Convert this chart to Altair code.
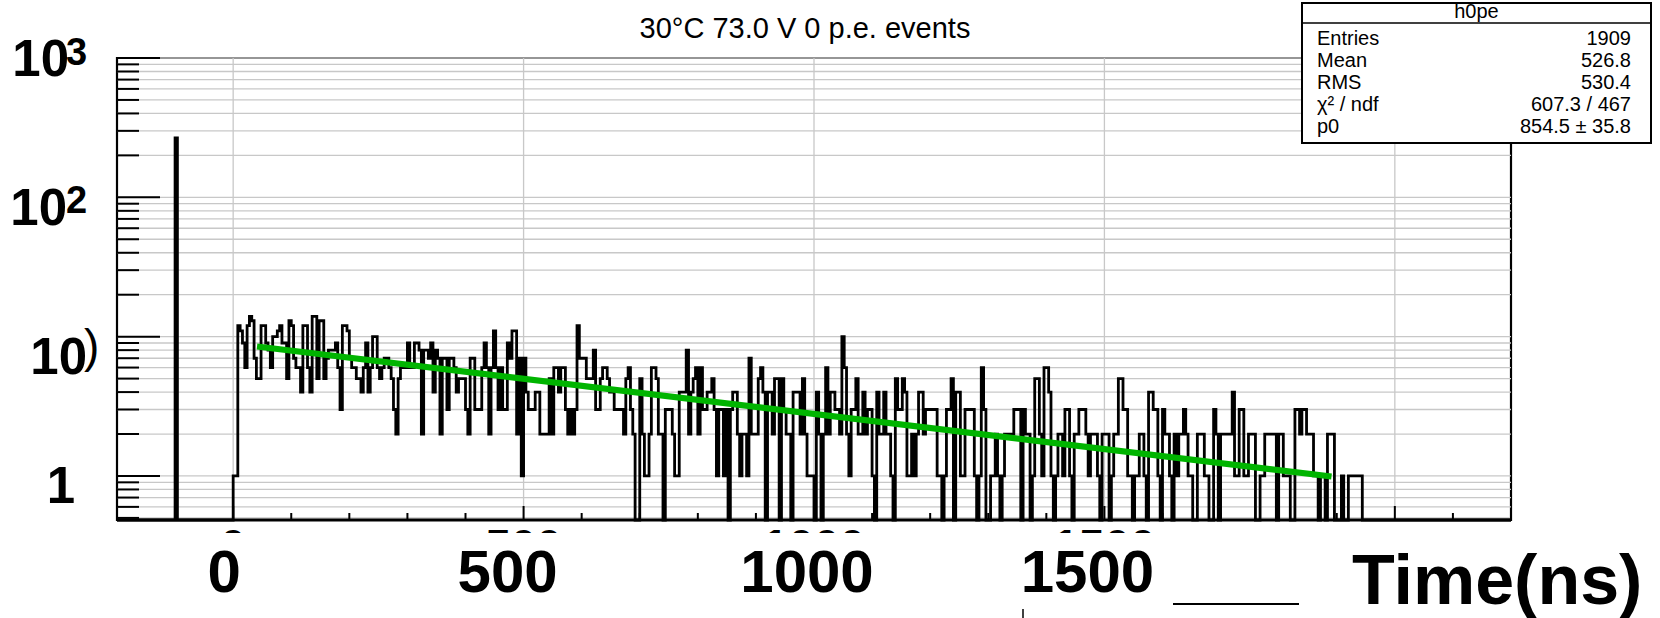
import altair as alt
import pandas as pd

# ---------------------------------------------------------------------------
# Histogram h0pe: arrival time of 0 p.e. events, 4 ns bins from -200 to 2200 ns
# ---------------------------------------------------------------------------
BIN_WIDTH = 4
X_RANGE = [-200, 2200]
Y_RANGE = [0.483, 1000]

PLOT_W, PLOT_H = 1394, 462
LEFT, TOP = 117, 58
FONT = "Liberation Sans"

pedestal_time = [-100]
pedestal_count = [267]

# bin contents starting at t = 0 ns
counts_000_312 = [1, 1, 12, 11, 9, 6, 12, 14, 13, 7, 5, 5, 12, 12, 9, 8, 6, 10, 10, 11,
                  12, 9, 9, 5, 13, 12, 7, 6, 6, 4, 12, 12, 6, 4, 14, 14, 5, 13, 13, 5,
                  7, 8, 8, 8, 9, 6, 3, 12, 12, 11, 7, 6, 6, 5, 5, 4, 6, 9, 4, 6,
                  10, 10, 6, 5, 6, 7, 7, 6, 5, 3, 2, 5, 6, 6, 6, 9, 6, 6]
counts_312_632 = [9, 9, 8, 2, 8, 8, 7, 9, 4, 8, 7, 2, 7, 7, 3, 7, 7, 6, 4, 5,
                  5, 5, 3, 2, 7, 7, 3, 3, 3, 6, 9, 6, 2, 6, 11, 6, 3, 6, 3, 3,
                  9, 7, 11, 11, 2, 7, 1, 7, 4, 3, 3, 3, 4, 4, 2, 2, 2, 2, 5, 2,
                  6, 6, 4, 6, 6, 3, 2, 3, 2, 3, 12, 7, 7, 7, 5, 5, 5, 8, 3, 3]
counts_632_952 = [5, 6, 6, 5, 4, 4, 3, 3, 3, 3, 2, 5, 6, 3, 2, 0, 0, 5, 2, 1,
                  1, 2, 6, 6, 5, 2, 2, 0, 3, 3, 3, 2, 1, 1, 4, 4, 4, 8, 2, 4,
                  5, 6, 2, 6, 3, 3, 4, 4, 5, 3, 1, 3, 3, 1, 3, 0, 3, 4, 4, 2,
                  1, 2, 2, 1, 7, 2, 2, 2, 5, 6, 4, 0, 4, 4, 2, 5, 5, 0, 5, 3]
counts_952_1268 = [2, 2, 0, 4, 4, 4, 2, 5, 2, 1, 1, 1, 0, 4, 2, 0, 2, 6, 2, 4,
                   4, 3, 3, 2, 10, 6, 2, 1, 3, 3, 5, 2, 2, 4, 2, 3, 3, 1, 0, 4,
                   2, 2, 4, 2, 2, 1, 0, 5, 3, 3, 5, 4, 1, 1, 2, 1, 2, 4, 4, 2,
                   3, 3, 3, 3, 3, 1, 1, 0, 1, 3, 3, 5, 0, 4, 4, 1, 1, 3, 3]
counts_1268_1588 = [3, 3, 1, 0, 1, 6, 3, 0, 0, 1, 1, 2, 1, 0, 1, 2, 2, 2, 2, 3,
                    3, 3, 0, 3, 2, 2, 0, 1, 5, 5, 2, 1, 6, 6, 4, 1, 0, 1, 2, 2,
                    1, 3, 3, 1, 0, 2, 2, 3, 3, 3, 2, 1, 2, 2, 2, 1, 0, 2, 2, 2,
                    0, 1, 2, 2, 5, 5, 3, 3, 1, 1, 0, 1, 1, 2, 2, 1, 0, 4, 4, 3]
counts_1588_1944 = [3, 1, 0, 3, 2, 2, 1, 0, 2, 1, 2, 2, 3, 2, 1, 1, 0, 0, 2, 2,
                    2, 1, 1, 0, 0, 3, 2, 0, 2, 2, 2, 2, 2, 4, 1, 1, 3, 3, 1, 1,
                    2, 2, 2, 0, 0, 1, 1, 2, 2, 2, 2, 2, 0, 2, 2, 1, 1, 1, 0, 0,
                    3, 3, 2, 3, 3, 2, 2, 2, 1, 1, 0, 1, 1, 0, 2, 2, 2, 0, 0, 0,
                    1, 0, 0, 1, 1, 1, 1, 1, 1]
signal_counts = (counts_000_312 + counts_312_632 + counts_632_952 +
                 counts_952_1268 + counts_1268_1588 + counts_1588_1944)

# exponential fit, drawn between its end points (straight on a log axis)
fit_time = [41, 1891]
fit_value = [8.5, 0.99]

title_text = "30°C 73.0 V 0 p.e. events"
stats_header = "h0pe"
stat_names = ["Entries", "Mean", "RMS", "χ² / ndf", "p0"]
stat_values = ["1909", "526.8", "530.4", "607.3 / 467", "854.5 ± 35.8"]
x_label_values = [0, 500, 1000, 1500]
y_decades = [1000, 100, 10, 1]
y_label_base = ["10", "10", "10", "1"]
y_label_exp = ["3", "2", "", ""]
x_title = "Time(ns)"

# ---------------------------------------------------------------------------
n_bins = (X_RANGE[1] - X_RANGE[0]) // BIN_WIDTH
counts = [0] * n_bins
for t, c in zip(pedestal_time, pedestal_count):
    counts[(t - X_RANGE[0]) // BIN_WIDTH] = c
first = (0 - X_RANGE[0]) // BIN_WIDTH
for i, c in enumerate(signal_counts):
    counts[first + i] = c
edges = [X_RANGE[0] + i * BIN_WIDTH for i in range(n_bins + 1)]
floor = Y_RANGE[0]
hist = pd.DataFrame({
    "t": edges,
    "n": [max(c, floor) for c in counts] + [max(counts[-1], floor)],
})

fit = pd.DataFrame({"t": fit_time, "f": fit_value})

xs = alt.Scale(domain=X_RANGE, nice=False, zero=False)
ys = alt.Scale(type="log", domain=Y_RANGE, nice=False)

grid_y = [round(m * 10.0 ** e, 6) for e in range(-1, 4) for m in range(1, 10)]
grid_y = [v for v in grid_y if Y_RANGE[0] <= v <= Y_RANGE[1]]
ytick = pd.DataFrame({"v": grid_y})
ytick["major"] = ytick["v"].isin(y_decades)
grid_x = pd.DataFrame({"t": [0, 500, 1000, 1500, 2000]})
xtick = pd.DataFrame({"t": list(range(-200, 2201, 100))})
xtick["major"] = xtick["t"] % 500 == 0

X = lambda f: alt.X(f, scale=xs, axis=None)
Y = lambda f: alt.Y(f, scale=ys, axis=None)
one = pd.DataFrame({"a": [0]})

frame = alt.Chart(one).mark_rect(
    fill="white", stroke="black", strokeWidth=2.2
).encode(x=alt.value(0), x2=alt.value(PLOT_W), y=alt.value(0), y2=alt.value(PLOT_H))

hgrid = alt.Chart(ytick).mark_rule(color="#c8c8c8", strokeWidth=1.3).encode(
    y=Y("v:Q"), x=alt.value(0), x2=alt.value(PLOT_W))
vgrid = alt.Chart(grid_x).mark_rule(color="#c8c8c8", strokeWidth=1.3).encode(
    x=X("t:Q"), y=alt.value(0), y2=alt.value(PLOT_H))

hist_line = alt.Chart(hist).mark_line(
    interpolate="step-after", color="black", strokeWidth=2.8, strokeJoin="miter"
).encode(x=X("t:Q"), y=Y("n:Q"))

fit_line = alt.Chart(fit).mark_line(color="#00b400", strokeWidth=6).encode(
    x=X("t:Q"), y=Y("f:Q"))

yt_major = alt.Chart(ytick[ytick["major"]]).mark_rule(color="black", strokeWidth=2).encode(
    y=Y("v:Q"), x=alt.value(0), x2=alt.value(43))
yt_minor = alt.Chart(ytick[~ytick["major"]]).mark_rule(color="black", strokeWidth=2).encode(
    y=Y("v:Q"), x=alt.value(0), x2=alt.value(22))
xt_major = alt.Chart(xtick[xtick["major"]]).mark_rule(color="black", strokeWidth=2).encode(
    x=X("t:Q"), y=alt.value(PLOT_H), y2=alt.value(PLOT_H - 14))
xt_minor = alt.Chart(xtick[~xtick["major"]]).mark_rule(color="black", strokeWidth=2).encode(
    x=X("t:Q"), y=alt.value(PLOT_H), y2=alt.value(PLOT_H - 7))
bottom_edge = alt.Chart(one).mark_rule(color="black", strokeWidth=3).encode(
    x=alt.value(0), x2=alt.value(PLOT_W), y=alt.value(PLOT_H))

layers = [frame, hgrid, vgrid, hist_line, fit_line, yt_major, yt_minor,
          xt_major, xt_minor, bottom_edge]

# y-axis decade labels: base and exponent drawn separately
y_base_style = {1000: (-48, 18), 100: (-50, 28), 10: (-30, 37), 1: (-42, 27)}
y_exp_style = {1000: (-51, 7), 100: (-51, 16)}
for v, base, ex in zip(y_decades, y_label_base, y_label_exp):
    dx, dy = y_base_style[v]
    layers.append(alt.Chart(pd.DataFrame({"v": [v], "s": [base]})).mark_text(
        font=FONT, fontSize=51, fontWeight="bold", align="right", baseline="alphabetic",
        dy=dy).encode(y=Y("v:Q"), x=alt.value(dx), text="s:N"))
    if ex:
        edx, edy = y_exp_style[v]
        layers.append(alt.Chart(pd.DataFrame({"v": [v], "s": [ex]})).mark_text(
            font=FONT, fontSize=38, fontWeight="bold", align="left", baseline="alphabetic",
            dy=edy).encode(y=Y("v:Q"), x=alt.value(edx), text="s:N"))

# leftover bracket beside the "10" label
layers.append(alt.Chart(pd.DataFrame({"v": [10], "s": [")"]})).mark_text(
    font=FONT, fontSize=46, align="left", baseline="alphabetic", dy=25
).encode(y=Y("v:Q"), x=alt.value(-33), text="s:N"))

# default-size tick labels, only their tops left showing above a white band
for v in x_label_values:
    layers.append(alt.Chart(pd.DataFrame({"t": [v], "s": [str(v)]})).mark_text(
        font=FONT, fontSize=46, fontWeight="bold", align="center", baseline="alphabetic",
        dy=42).encode(x=X("t:Q"), y=alt.value(PLOT_H), text="s:N"))
layers.append(alt.Chart(one).mark_rect(fill="white").encode(
    x=alt.value(20), x2=alt.value(1250), y=alt.value(475), y2=alt.value(510)))

# x-axis labels
x_label_dx = {0: -9, 500: -16, 1000: -7, 1500: -17}
for v in x_label_values:
    layers.append(alt.Chart(pd.DataFrame({"t": [v], "s": [str(v)]})).mark_text(
        font=FONT, fontSize=60, fontWeight="bold", align="center", baseline="alphabetic",
        dx=x_label_dx[v]).encode(x=X("t:Q"), y=alt.value(534), text="s:N"))

layers.append(alt.Chart(pd.DataFrame({"s": [x_title]})).mark_text(
    font=FONT, fontSize=70, fontWeight="bold", align="left", baseline="alphabetic"
).encode(x=alt.value(1235), y=alt.value(546), text="s:N"))

# stray strokes below the axis
layers.append(alt.Chart(one).mark_rule(color="black", strokeWidth=2).encode(
    x=alt.value(1056), x2=alt.value(1182), y=alt.value(546)))
layers.append(alt.Chart(one).mark_rule(color="black", strokeWidth=1.5).encode(
    x=alt.value(906), y=alt.value(551), y2=alt.value(560)))

# title
layers.append(alt.Chart(pd.DataFrame({"s": [title_text]})).mark_text(
    font=FONT, fontSize=29, align="center", baseline="middle"
).encode(x=alt.value(688), y=alt.value(-29), text="s:N"))

# statistics box
box_l, box_r, box_t, box_b = 1185, 1534, -55, 85
layers.append(alt.Chart(one).mark_rect(
    fill="white", stroke="black", strokeWidth=2).encode(
    x=alt.value(box_l), x2=alt.value(box_r), y=alt.value(box_t), y2=alt.value(box_b)))
layers.append(alt.Chart(one).mark_rule(color="black", strokeWidth=1.5).encode(
    x=alt.value(box_l), x2=alt.value(box_r), y=alt.value(-35)))
layers.append(alt.Chart(pd.DataFrame({"s": [stats_header]})).mark_text(
    font=FONT, fontSize=20, align="center", baseline="alphabetic").encode(
    x=alt.value((box_l + box_r) / 2), y=alt.value(-40), text="s:N"))
for i, (name, val) in enumerate(zip(stat_names, stat_values)):
    base_y = -13 + 22 * i
    layers.append(alt.Chart(pd.DataFrame({"s": [name]})).mark_text(
        font=FONT, fontSize=20, align="left", baseline="alphabetic").encode(
        x=alt.value(1200), y=alt.value(base_y), text="s:N"))
    layers.append(alt.Chart(pd.DataFrame({"s": [val]})).mark_text(
        font=FONT, fontSize=20, align="right", baseline="alphabetic").encode(
        x=alt.value(1514), y=alt.value(base_y), text="s:N"))

chart = alt.layer(*layers).properties(
    width=PLOT_W, height=PLOT_H,
    padding={"left": LEFT, "top": TOP, "right": 1660 - LEFT - PLOT_W, "bottom": 618 - TOP - PLOT_H},
    autosize=alt.AutoSizeParams(type="none"),
    background="white",
).configure_view(stroke=None)

chart.save("out.html", embed_options={"renderer": "svg", "actions": False})
